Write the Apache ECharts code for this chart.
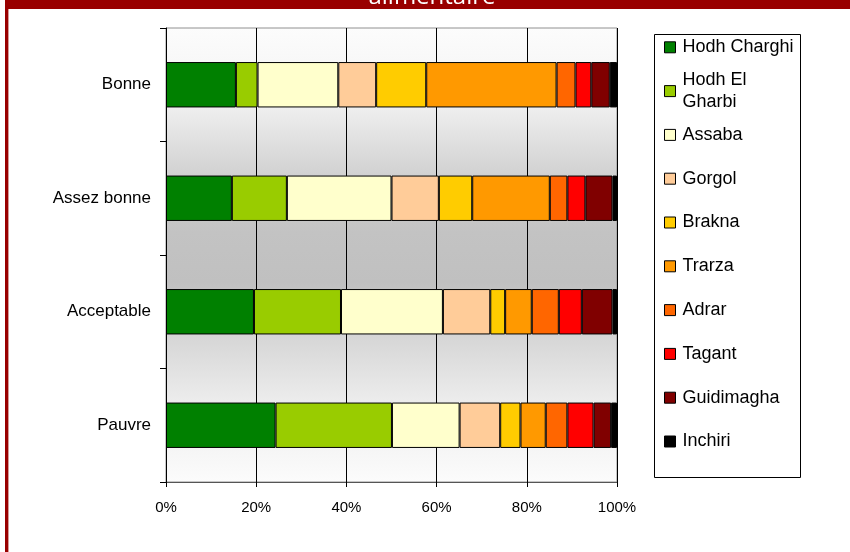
<!DOCTYPE html>
<html>
<head>
<meta charset="utf-8">
<script src="https://cdn.jsdelivr.net/npm/echarts@6/dist/echarts.min.js"></script>
<style>
html,body{margin:0;padding:0;background:#fff;}
#c{width:850px;height:552px;}
</style>
</head>
<body>
<div id="c"></div>
<script>
var categories = ['Bonne', 'Assez bonne', 'Acceptable', 'Pauvre'];
var xTicks = [0, 20, 40, 60, 80, 100];
var regions = ['Hodh Charghi', 'Hodh El Gharbi', 'Assaba', 'Gorgol', 'Brakna', 'Trarza', 'Adrar', 'Tagant', 'Guidimagha', 'Inchiri'];
var hodhCharghi  = [15.5, 14.6, 19.5, 24.3];
var hodhElGharbi = [4.8, 12.2, 19.3, 25.8];
var assaba       = [17.9, 23.2, 22.6, 15.0];
var gorgol       = [8.4, 10.5, 10.5, 9.0];
var brakna       = [11.1, 7.4, 3.3, 4.5];
var trarza       = [28.9, 17.2, 5.9, 5.6];
var adrar        = [4.2, 3.9, 6.0, 4.8];
var tagant       = [3.5, 4.0, 5.1, 5.8];
var guidimagha   = [4.1, 6.0, 6.8, 3.9];
var inchiri      = [1.6, 1.0, 1.0, 1.3];
var seriesValues = [hodhCharghi, hodhElGharbi, assaba, gorgol, brakna, trarza, adrar, tagant, guidimagha, inchiri];
var colors = ['#008000', '#99CC00', '#FFFFCC', '#FFCC99', '#FFCC00', '#FF9900', '#FF6600', '#FF0000', '#800000', '#000000'];

var FONT = "'Liberation Sans', Arial, sans-serif";
var chart = echarts.init(document.getElementById('c'), null, {renderer: 'canvas'});

var series = regions.map(function (name, i) {
  return {
    name: name,
    type: 'bar',
    stack: 'total',
    barWidth: '40%',
    data: seriesValues[i],
    itemStyle: {color: colors[i], borderColor: '#000', borderWidth: 1},
    emphasis: {disabled: true}
  };
});

var legendTop0 = 47.3, legendStep = 43.8, LH = 22;
var legends = regions.map(function (name, i) {
  var wrap = name === 'Hodh El Gharbi';
  return {
    data: [{name: name, icon: 'rect'}],
    left: 664,
    top: legendTop0 + i * legendStep - (wrap ? 1.5 * LH : LH / 2),
    padding: 0,
    itemWidth: 11,
    itemHeight: 11,
    itemGap: 0,
    itemStyle: {borderColor: '#000', borderWidth: 1},
    selectedMode: false,
    z: 5,
    formatter: wrap ? function () { return 'Hodh El\nGharbi'; } : '{name}',
    textStyle: {
      fontFamily: FONT, fontSize: 18, color: '#000', lineHeight: LH,
      padding: wrap ? [LH, 0, 0, 2] : [0, 0, 0, 2]
    }
  };
});

var option = {
  animation: false,
  backgroundColor: '#fff',
  color: colors,
  grid: {
    left: 166, right: 233, top: 28, bottom: 70,
    show: true,
    borderColor: '#909090',
    borderWidth: 1,
    backgroundColor: {
      type: 'linear', x: 0, y: 0, x2: 0, y2: 1,
      colorStops: [
        {offset: 0, color: '#fcfcfc'},
        {offset: 0.15, color: '#f4f4f4'},
        {offset: 0.33, color: '#d0d0d0'},
        {offset: 0.45, color: '#c3c3c3'},
        {offset: 0.56, color: '#c0c0c0'},
        {offset: 0.68, color: '#d6d6d6'},
        {offset: 0.82, color: '#ececec'},
        {offset: 1, color: '#fcfcfc'}
      ]
    }
  },
  xAxis: {
    type: 'value',
    min: xTicks[0],
    max: xTicks[xTicks.length - 1],
    interval: xTicks[1] - xTicks[0],
    axisLine: {show: true, lineStyle: {color: '#555', width: 1}},
    axisTick: {show: true, length: 5, lineStyle: {color: '#000'}},
    splitLine: {show: true, lineStyle: {color: '#000', width: 1}},
    axisLabel: {formatter: '{value}%', fontFamily: FONT, fontSize: 15, color: '#000', margin: 18}
  },
  yAxis: {
    type: 'category',
    inverse: true,
    data: categories,
    axisLine: {show: true, lineStyle: {color: '#000', width: 1}},
    axisTick: {show: true, length: 6, lineStyle: {color: '#000'}},
    splitLine: {show: false},
    axisLabel: {fontFamily: FONT, fontSize: 17, color: '#000', margin: 15}
  },
  legend: legends,
  graphic: [
    {type: 'rect', z: 0, shape: {x: 654.5, y: 34.5, width: 146, height: 443}, style: {fill: '#fff', stroke: '#000', lineWidth: 1}},
    {type: 'rect', z: 10, shape: {x: 5, y: 0, width: 845, height: 9}, style: {fill: '#990000'}},
    {type: 'rect', z: 10, shape: {x: 5, y: 0, width: 3.4, height: 552}, style: {fill: '#990000'}},
    {type: 'text', z: 11, x: 432, y: -3, style: {text: 'alimentaire', fill: '#fff', font: "24px 'Open Sans', sans-serif", textAlign: 'center', textVerticalAlign: 'middle'}}
  ],
  series: series
};
chart.setOption(option);
</script>
</body>
</html>
